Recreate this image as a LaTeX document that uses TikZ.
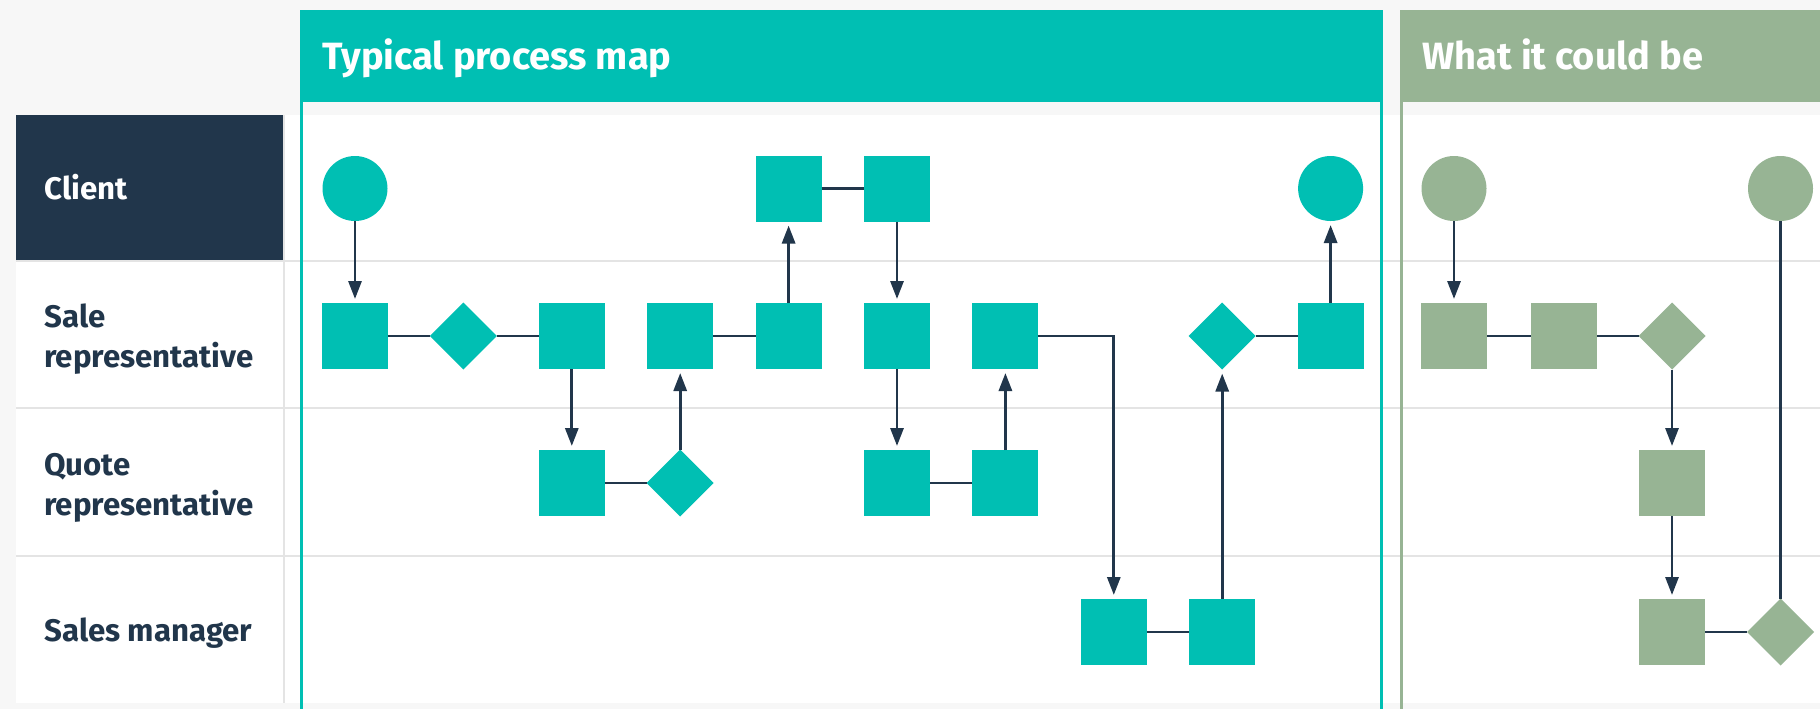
\documentclass[tikz,border=0pt]{standalone}
\usepackage{fontspec}
\setmainfont{Fira Sans}
\usetikzlibrary{arrows.meta,shapes.geometric}

\definecolor{mapteal}{HTML}{00BFB3}
\definecolor{mapgreen}{HTML}{97B494}
\definecolor{mapnavy}{HTML}{21364B}
\definecolor{maprule}{HTML}{E4E4E4}
\definecolor{mapbg}{HTML}{F7F7F7}

\tikzset{
  procbox/.style={rectangle, fill=#1, minimum size=33pt, inner sep=0pt, outer sep=0pt},
  decibox/.style={diamond, fill=#1, minimum size=33.5pt, aspect=1, inner sep=0pt, outer sep=0pt},
  termbox/.style={circle, fill=#1, minimum size=32.5pt, inner sep=0pt, outer sep=0pt},
  link/.style={draw=mapnavy, line width=1.45pt},
  flow/.style={link, -{Triangle[length=9pt,width=6.5pt]}, shorten >=2pt},
  lanelabel/.style={font=\bfseries\fontsize{15.6}{20}\selectfont, text=mapnavy, anchor=base west, align=left, inner sep=0pt},
  headlabel/.style={font=\bfseries\fontsize{19}{23}\selectfont, text=white, anchor=base west, inner sep=0pt},
}

\begin{document}
\begin{tikzpicture}[x=0.5pt, y=-0.5pt]
    \useasboundingbox (0,0) rectangle (1820,709);
    \fill[mapbg] (0,0) rectangle (1820,709);
    \fill[white] (16,115) rectangle (1820,703);
    \fill[mapnavy] (16,115) rectangle (284,261);
    
    % swim lanes
    \foreach \y in {261,408,556}
        \draw[maprule, line width=1pt] (16,\y) -- (1820,\y);
    \draw[maprule, line width=1pt] (284,115) -- (284,703);
    
    \node[lanelabel, text=white] (client) at (44,199) {Client};
    \node[lanelabel] (salerep) at (44,367) {Sale\\representative};
    \node[lanelabel] (quoterep) at (44,515) {Quote\\representative};
    \node[lanelabel] (salesman) at (44,641) {Sales manager};
    
    % panels
    \fill[mapteal] (300,10) rectangle (1383,102);
    \draw[mapteal, line width=1.5pt] (301.5,102) -- (301.5,709);
    \draw[mapteal, line width=1.5pt] (1381.5,102) -- (1381.5,709);
    \node[headlabel] (typical) at (322,69) {Typical process map};
    
    \fill[mapgreen] (1400,10) rectangle (1820,102);
    \draw[mapgreen, line width=1.5pt] (1401.5,102) -- (1401.5,709);
    \node[headlabel] (could) at (1422,69) {What it could be};
    
    % typical process map
    \node[termbox=mapteal] (cl1) at (355,188.5) {};
    \node[procbox=mapteal] (cl5) at (788.6,188.5) {};
    \node[procbox=mapteal] (cl6) at (897,188.5) {};
    \node[termbox=mapteal] (cl10) at (1330.6,188.5) {};
    
    \node[procbox=mapteal] (sr1) at (355,336) {};
    \node[decibox=mapteal] (sr2) at (463.4,336) {};
    \node[procbox=mapteal] (sr3) at (571.8,336) {};
    \node[procbox=mapteal] (sr4) at (680.2,336) {};
    \node[procbox=mapteal] (sr5) at (788.6,336) {};
    \node[procbox=mapteal] (sr6) at (897,336) {};
    \node[procbox=mapteal] (sr7) at (1005.4,336) {};
    \node[decibox=mapteal] (sr9) at (1222.2,336) {};
    \node[procbox=mapteal] (sr10) at (1330.6,336) {};
    
    \node[procbox=mapteal] (qr3) at (571.8,483) {};
    \node[decibox=mapteal] (qr4) at (680.2,483) {};
    \node[procbox=mapteal] (qr6) at (897,483) {};
    \node[procbox=mapteal] (qr7) at (1005.4,483) {};
    
    \node[procbox=mapteal] (sm8) at (1113.8,632) {};
    \node[procbox=mapteal] (sm9) at (1222.2,632) {};
    
    \draw[flow] (cl1) -- (sr1);
    \draw[link] (sr1) -- (sr2);
    \draw[link] (sr2) -- (sr3);
    \draw[flow] (sr3) -- (qr3);
    \draw[link] (qr3) -- (qr4);
    \draw[flow] (qr4) -- (sr4);
    \draw[link] (sr4) -- (sr5);
    \draw[flow] (sr5) -- (cl5);
    \draw[link] (cl5) -- (cl6);
    \draw[flow] (cl6) -- (sr6);
    \draw[flow] (sr6) -- (qr6);
    \draw[link] (qr6) -- (qr7);
    \draw[flow] (qr7) -- (sr7);
    \draw[flow] (sr7.east) -| (sm8.north);
    \draw[link] (sm8) -- (sm9);
    \draw[flow] (sm9) -- (sr9);
    \draw[link] (sr9) -- (sr10);
    \draw[flow] (sr10) -- (cl10);
    
    % what it could be
    \node[termbox=mapgreen] (gcl1) at (1454,188.5) {};
    \node[termbox=mapgreen] (gcl4) at (1780.5,188.5) {};
    \node[procbox=mapgreen] (gsr1) at (1454,336) {};
    \node[procbox=mapgreen] (gsr2) at (1564,336) {};
    \node[decibox=mapgreen] (gsr3) at (1672,336) {};
    \node[procbox=mapgreen] (gqr3) at (1672,483) {};
    \node[procbox=mapgreen] (gsm3) at (1672,632) {};
    \node[decibox=mapgreen] (gsm4) at (1780.5,632) {};
    
    \draw[flow] (gcl1) -- (gsr1);
    \draw[link] (gsr1) -- (gsr2);
    \draw[link] (gsr2) -- (gsr3);
    \draw[flow] (gsr3) -- (gqr3);
    \draw[flow] (gqr3) -- (gsm3);
    \draw[link] (gsm3) -- (gsm4);
    \draw[link] (gcl4) -- (gsm4);
    
\end{tikzpicture}
\end{document}
